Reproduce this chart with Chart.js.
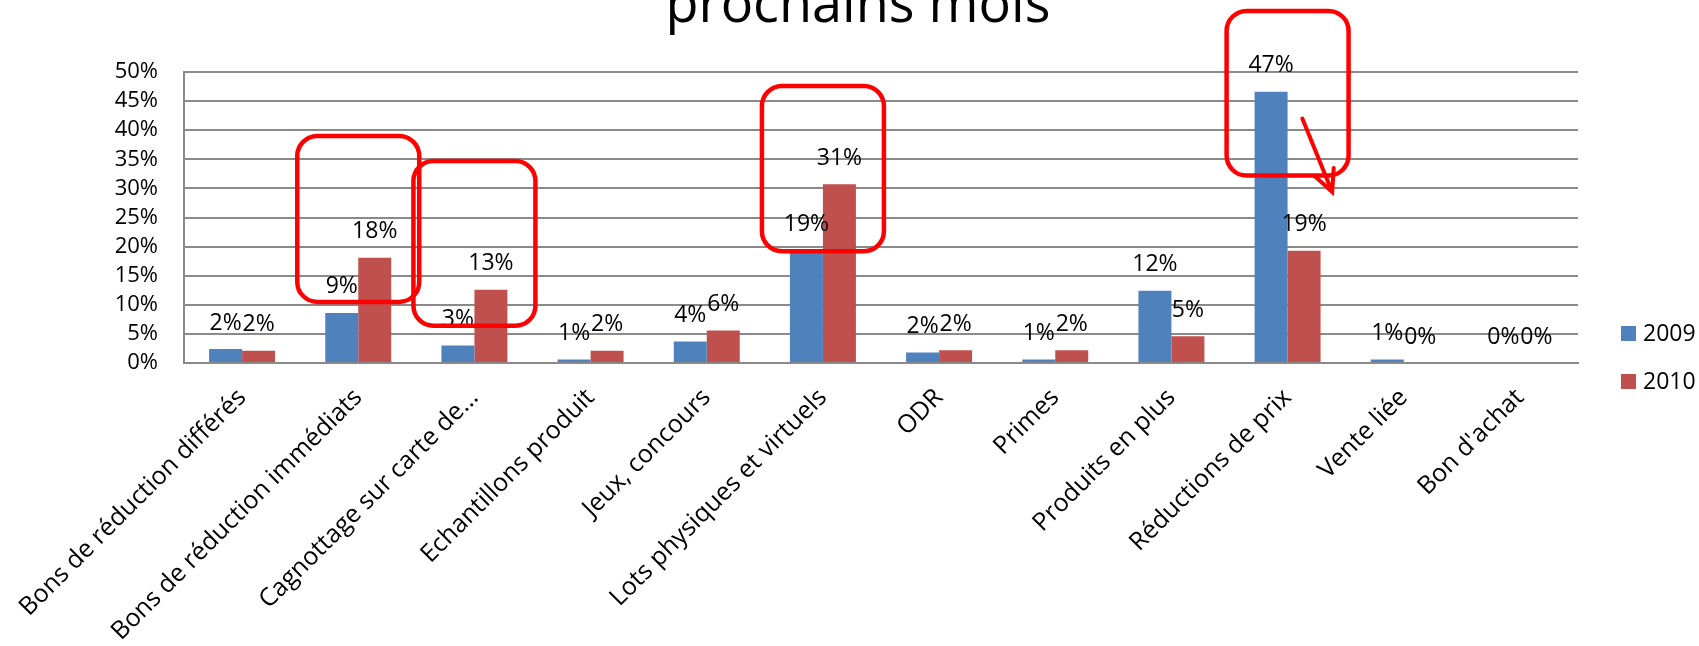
<!DOCTYPE html>
<html lang="fr">
<head>
<meta charset="utf-8">
<title>Techniques promotionnelles</title>
<script src="https://cdn.jsdelivr.net/npm/chart.js@4.4.1/dist/chart.umd.min.js"></script>
<style>
  html, body { margin: 0; padding: 0; background: #fff; overflow: hidden; }
  canvas { display: block; }
</style>
</head>
<body>
<canvas id="promoChart" width="1699" height="646"></canvas>
<script>
// Categories and values (in %)
const categories = [
  "Bons de réduction différés",
  "Bons de réduction immédiats",
  "Cagnottage sur carte de...",
  "Echantillons produit",
  "Jeux, concours",
  "Lots physiques et virtuels",
  "ODR",
  "Primes",
  "Produits en plus",
  "Réductions de prix",
  "Vente liée",
  "Bon d'achat",
];
const seriesNames = ["2009", "2010"];
const values2009 = [2.4, 8.6, 3.0, 0.6, 3.7, 19.4, 1.8, 0.6, 12.4, 46.6, 0.6, 0];
const values2010 = [2.1, 18.1, 12.6, 2.1, 5.6, 30.7, 2.2, 2.2, 4.6, 19.3, 0, 0];
const yTicks = [0, 5, 10, 15, 20, 25, 30, 35, 40, 45, 50];

// Highlight frames: category index + value range they enclose
const highlightCategories = [1, 2, 5, 9];
const highlightTop = [39, 34.7, 47.6, 60.5];
const highlightBottom = [10.5, 6.4, 19.2, 32.2];
// Arrow next to "Réductions de prix" (offset in category widths, value in %)
const arrowCategory = 9;
const arrowFrom = { offset: 0.127, value: 42 };
const arrowTo = { offset: 0.384, value: 29.4 };

const FONT = "'Open Sans', 'Liberation Sans', sans-serif";
const BLUE = "#4f81bd";
const RED = "#c0504d";
const GRID = "#8a8a8a";

// Heading (only its last line shows)
const headingPlugin = {
  id: "heading",
  afterDraw(chart) {
    const ctx = chart.ctx;
    ctx.save();
    ctx.font = "54px " + FONT;
    ctx.fillStyle = "#000";
    ctx.textAlign = "center";
    ctx.textBaseline = "alphabetic";
    ctx.fillText("prochains mois", 858, 22);
    ctx.restore();
  },
};

// Percent labels above each bar
const valueLabels = {
  id: "valueLabels",
  afterDatasetsDraw(chart) {
    const ctx = chart.ctx;
    ctx.save();
    ctx.font = "23px " + FONT;
    ctx.fillStyle = "#000";
    ctx.textAlign = "center";
    ctx.textBaseline = "middle";
    chart.data.datasets.forEach((ds, di) => {
      const meta = chart.getDatasetMeta(di);
      meta.data.forEach((bar, i) => {
        ctx.fillText(Math.round(ds.data[i]) + "%", bar.x, bar.y - 26);
      });
    });
    ctx.restore();
  },
};

// Legend on the right side
const sideLegend = {
  id: "sideLegend",
  afterDraw(chart) {
    const ctx = chart.ctx;
    const area = chart.chartArea;
    ctx.save();
    ctx.font = "23px " + FONT;
    ctx.textBaseline = "middle";
    ctx.textAlign = "left";
    chart.data.datasets.forEach((ds, i) => {
      const cy = area.bottom - 30 + i * 48;
      ctx.fillStyle = ds.backgroundColor;
      ctx.fillRect(area.right + 43, cy - 7, 15, 15);
      ctx.fillStyle = "#000";
      ctx.fillText(ds.label, area.right + 65, cy + 1);
    });
    ctx.restore();
  },
};

// Red frames and arrow
const highlights = {
  id: "highlights",
  afterDraw(chart) {
    const ctx = chart.ctx;
    const x = chart.scales.x;
    const y = chart.scales.y;
    const catW = (x.right - x.left) / categories.length;
    ctx.save();
    ctx.strokeStyle = "#ff0000";
    ctx.lineWidth = 4.5;
    highlightCategories.forEach((c, i) => {
      const cx = x.getPixelForValue(c);
      const w = catW * 1.05;
      const top = y.getPixelForValue(highlightTop[i]);
      const bottom = y.getPixelForValue(highlightBottom[i]);
      ctx.beginPath();
      ctx.roundRect(cx - w / 2, top, w, bottom - top, 20);
      ctx.stroke();
    });
    const ax = x.getPixelForValue(arrowCategory);
    const x1 = ax + arrowFrom.offset * catW, y1 = y.getPixelForValue(arrowFrom.value);
    const x2 = ax + arrowTo.offset * catW, y2 = y.getPixelForValue(arrowTo.value);
    ctx.lineWidth = 4;
    ctx.lineCap = "round";
    ctx.beginPath();
    ctx.moveTo(x1, y1);
    ctx.lineTo(x2, y2);
    const ang = Math.atan2(y2 - y1, x2 - x1);
    const head = 24;
    ctx.moveTo(x2 - head * Math.cos(ang - 0.45), y2 - head * Math.sin(ang - 0.45));
    ctx.lineTo(x2, y2);
    ctx.lineTo(x2 - head * Math.cos(ang + 0.45), y2 - head * Math.sin(ang + 0.45));
    ctx.stroke();
    ctx.restore();
  },
};

const ctx = document.getElementById("promoChart").getContext("2d");
Chart.defaults.font.family = FONT;
Chart.defaults.color = "#000";

new Chart(ctx, {
  type: "bar",
  data: {
    labels: categories,
    datasets: [
      {
        label: seriesNames[0],
        data: values2009,
        backgroundColor: BLUE,
        borderWidth: 0,
      },
      {
        label: seriesNames[1],
        data: values2010,
        backgroundColor: RED,
        borderWidth: 0,
      },
    ],
  },
  options: {
    responsive: false,
    animation: false,
    layout: {
      padding: { top: 72, right: 121, bottom: 0, left: 0 },
    },
    datasets: {
      bar: {
        categoryPercentage: 0.568,
        barPercentage: 1,
      },
    },
    plugins: {
      legend: { display: false },
      title: { display: false },
      tooltip: { enabled: false },
    },
    scales: {
      x: {
        grid: { display: false, drawTicks: false },
        border: { display: true, color: GRID, width: 2 },
        ticks: {
          autoSkip: false,
          minRotation: 45,
          maxRotation: 45,
          padding: 20,
          font: { size: 25 },
        },
        afterFit(scale) {
          // long first label may hang past the y axis
          scale.height = 283;
          scale.paddingLeft = 0;
          scale.paddingRight = 0;
        },
      },
      y: {
        min: 0,
        max: 50,
        afterBuildTicks(scale) {
          scale.ticks = yTicks.map((v) => ({ value: v }));
        },
        grid: { color: GRID, lineWidth: 2, drawTicks: false },
        border: { display: true, color: GRID, width: 2 },
        ticks: {
          autoSkip: false,
          padding: 26,
          font: { size: 22 },
          callback: (v) => v + "%",
        },
        afterFit(scale) {
          scale.width = 184;
        },
      },
    },
  },
  plugins: [valueLabels, highlights, sideLegend, headingPlugin],
});
</script>
</body>
</html>
